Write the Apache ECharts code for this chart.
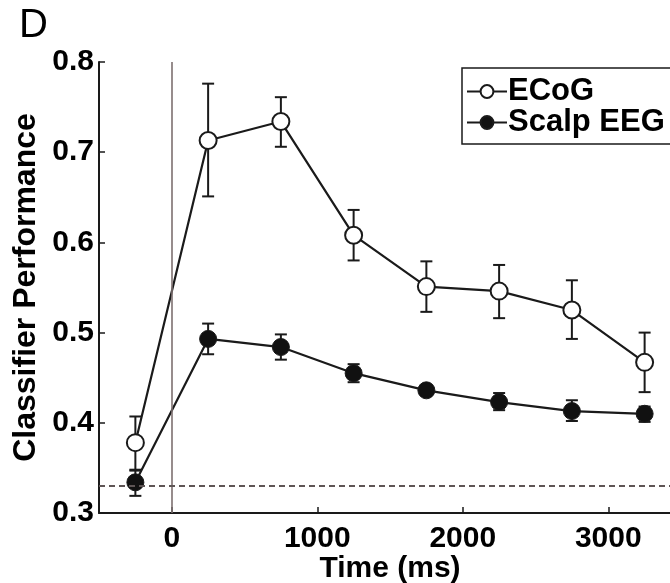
<!DOCTYPE html>
<html>
<head>
<meta charset="utf-8">
<script src="https://cdn.jsdelivr.net/npm/echarts@6/dist/echarts.min.js"></script>
<style>
html,body{margin:0;padding:0;background:#fff;}
#chart{width:670px;height:583px;}
</style>
</head>
<body>
<div id="chart"></div>
<script>
// ---- data ----
const timesMs = [-250, 250, 750, 1250, 1750, 2250, 2750, 3250];
const ecogMean = [0.378, 0.713, 0.734, 0.608, 0.551, 0.546, 0.525, 0.467];
const ecogLow  = [0.347, 0.651, 0.706, 0.580, 0.523, 0.516, 0.493, 0.434];
const ecogHigh = [0.407, 0.776, 0.761, 0.636, 0.579, 0.575, 0.558, 0.500];
const eegMean  = [0.334, 0.493, 0.484, 0.455, 0.436, 0.423, 0.413, 0.410];
const eegLow   = [0.319, 0.476, 0.470, 0.445, 0.431, 0.414, 0.402, 0.401];
const eegHigh  = [0.348, 0.510, 0.498, 0.465, 0.441, 0.433, 0.425, 0.418];
const xTickValues = [0, 1000, 2000, 3000];
const chanceLevel = 0.333;
const stimulusOnset = 0;
const seriesNames = ['ECoG', 'Scalp EEG'];
const panelLabel = 'D';
const xTitle = 'Time (ms)';
const yTitle = 'Classifier Performance';

const FONT = '"Liberation Sans", Arial, Helvetica, sans-serif';
const INK = '#1a1a1a';

function pairs(xs, ys) { return xs.map((x, i) => [x, ys[i]]); }
function errRows(xs, lo, hi) { return xs.map((x, i) => [x, lo[i], hi[i]]); }

function errorBarRender(params, api) {
  const x = api.value(0), lo = api.value(1), hi = api.value(2);
  const pTop = api.coord([x, hi]);
  const pBot = api.coord([x, lo]);
  const hw = 6;
  const st = { stroke: INK, lineWidth: 2 };
  return {
    type: 'group',
    children: [
      { type: 'line', shape: { x1: pTop[0], y1: pTop[1], x2: pBot[0], y2: pBot[1] }, style: st },
      { type: 'line', shape: { x1: pTop[0] - hw, y1: pTop[1], x2: pTop[0] + hw, y2: pTop[1] }, style: st },
      { type: 'line', shape: { x1: pBot[0] - hw, y1: pBot[1], x2: pBot[0] + hw, y2: pBot[1] }, style: st }
    ]
  };
}

const chart = echarts.init(document.getElementById('chart'), null, { renderer: 'canvas' });
chart.setOption({
  animation: false,
  backgroundColor: '#fff',
  textStyle: { fontFamily: FONT },
  graphic: [{
    type: 'text', left: 19, top: 6,
    style: { text: panelLabel, font: '40px ' + FONT, fill: '#000' }
  }],
  grid: { left: 99, top: 62, width: 582, height: 451, containLabel: false, outerBoundsMode: 'none' },
  legend: {
    data: seriesNames,
    orient: 'vertical',
    left: 462, top: 68,
    itemWidth: 40, itemHeight: 16, itemGap: 0,
    padding: [8, 60, 6, 4],
    borderColor: INK, borderWidth: 1.5,
    backgroundColor: '#fff',
    textStyle: { fontFamily: FONT, fontSize: 31, lineHeight: 29, fontWeight: 'bold', color: '#000', padding: [0, 0, 0, -4] },
    selectedMode: false
  },
  xAxis: {
    type: 'value', min: -500, max: 3500,
    name: xTitle, nameLocation: 'middle', nameGap: 41, nameMoveOverlap: false,
    nameTextStyle: { fontFamily: FONT, fontSize: 30, fontWeight: 'bold', color: '#000', verticalAlign: 'top' },
    axisLine: { show: true, onZero: false, lineStyle: { color: INK, width: 2 } },
    axisTick: { show: true, inside: true, length: 6, customValues: xTickValues, lineStyle: { color: INK, width: 1.5 } },
    axisLabel: { customValues: xTickValues, formatter: v => String(v), fontFamily: FONT, fontSize: 30, fontWeight: 'bold', color: '#000', margin: 11 },
    splitLine: { show: false }
  },
  yAxis: {
    type: 'value', min: 0.3, max: 0.8, interval: 0.1,
    name: yTitle, nameLocation: 'middle', nameGap: 57, nameRotate: 90, nameMoveOverlap: false,
    nameTextStyle: { fontFamily: FONT, fontSize: 32, fontWeight: 'bold', color: '#000' },
    axisLine: { show: true, onZero: false, lineStyle: { color: INK, width: 2 } },
    axisTick: { show: true, inside: true, length: 6, lineStyle: { color: INK, width: 1.5 } },
    axisLabel: { formatter: v => v.toFixed(1), fontFamily: FONT, fontSize: 30, fontWeight: 'bold', color: '#000', margin: 5 },
    splitLine: { show: false }
  },
  series: [
    {
      type: 'line', name: 'refs', data: [], silent: true,
      markLine: {
        silent: true, symbol: 'none', label: { show: false },
        data: [
          { xAxis: stimulusOnset, lineStyle: { color: '#7d7070', width: 1.6, type: 'solid' } },
          { yAxis: chanceLevel, lineStyle: { color: '#5e5555', width: 1.8, type: [6, 4] } }
        ]
      },
      z: 1
    },
    {
      type: 'custom', name: 'ecogErr', renderItem: errorBarRender,
      data: errRows(timesMs, ecogLow, ecogHigh), encode: { x: 0, y: [1, 2] }, z: 2, silent: true
    },
    {
      type: 'custom', name: 'eegErr', renderItem: errorBarRender,
      data: errRows(timesMs, eegLow, eegHigh), encode: { x: 0, y: [1, 2] }, z: 2, silent: true
    },
    {
      type: 'line', name: seriesNames[0], data: pairs(timesMs, ecogMean),
      symbol: 'circle', symbolSize: 17, showAllSymbol: true,
      lineStyle: { color: INK, width: 2.2 },
      itemStyle: { color: '#fff', borderColor: INK, borderWidth: 2 },
      emphasis: { disabled: true }, z: 3
    },
    {
      type: 'line', name: seriesNames[1], data: pairs(timesMs, eegMean),
      symbol: 'circle', symbolSize: 17, showAllSymbol: true,
      lineStyle: { color: INK, width: 2.2 },
      itemStyle: { color: '#111', borderColor: INK, borderWidth: 1 },
      emphasis: { disabled: true }, z: 3
    }
  ]
});
</script>
</body>
</html>
